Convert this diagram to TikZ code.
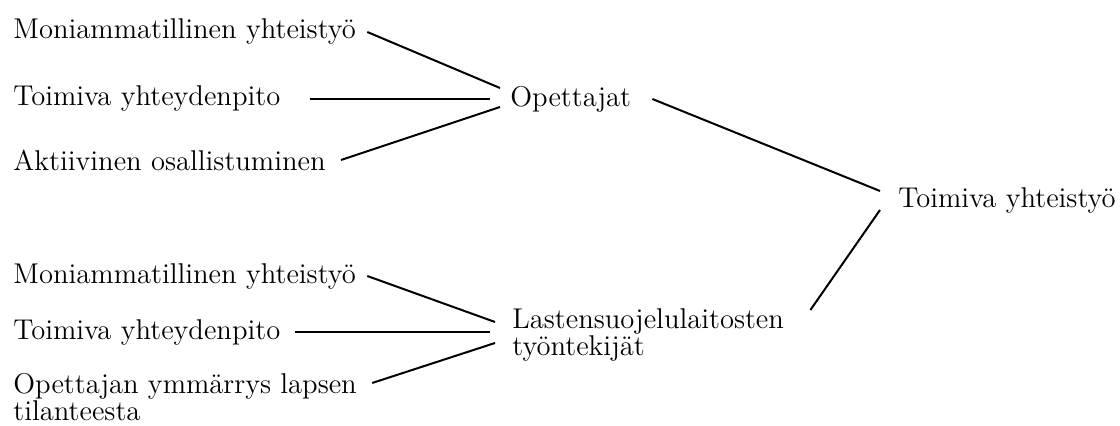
\documentclass[tikz,border=0pt]{standalone}
\usetikzlibrary{positioning}
\begin{document}
\begin{tikzpicture}[x=0.5pt, y=-0.5pt, font=\fontsize{14.3}{13.5}\selectfont, item/.style = {anchor=west, inner sep=0pt}, link/.style = {line width=1pt}]
    \useasboundingbox (0,0) rectangle (1120,426);
    \node[item] (t1) at (13,32) {Moniammatillinen yhteistyö};
    \node[item] (t2) at (13,99) {Toimiva yhteydenpito};
    \node[item] (t3) at (13,160) {Aktiivinen osallistuminen};
    \node[item] (op) at (510,99) {Opettajat};
    \node[item] (ty) at (898,200) {Toimiva yhteistyö};
    \node[item] (l1) at (13,276) {Moniammatillinen yhteistyö};
    \node[item] (l2) at (13,332) {Toimiva yhteydenpito};
    \node[item, align=left] (l3) at (13,397) {Opettajan ymmärrys lapsen\\tilanteesta};
    \node[item, align=left] (ls) at (512,335) {Lastensuojelulaitosten\\työntekijät};
    \draw[link] ([xshift=5.5pt]t1.east) -- ([xshift=-5pt, yshift=5.5pt]op.west);
    \draw[link] ([xshift=14.5pt]t2.east) -- ([xshift=-10pt]op.west);
    \draw[link] ([xshift=7.5pt]t3.east) -- ([xshift=-5pt, yshift=-4pt]op.west);
    \draw[link] ([xshift=10.5pt]op.east) -- ([xshift=-9pt, yshift=4.5pt]ty.west);
    \draw[link] ([xshift=-9pt, yshift=-5pt]ty.west) -- ([xshift=13pt, yshift=12.5pt]ls.east);
    \draw[link] ([xshift=5.5pt]l1.east) -- ([xshift=-8.5pt, yshift=6.5pt]ls.west);
    \draw[link] ([xshift=7pt]l2.east) -- ([xshift=-11pt, yshift=1.5pt]ls.west);
    \draw[link] ([xshift=7.5pt, yshift=7pt]l3.east) -- ([xshift=-8.5pt, yshift=-4pt]ls.west);
\end{tikzpicture}
\end{document}
